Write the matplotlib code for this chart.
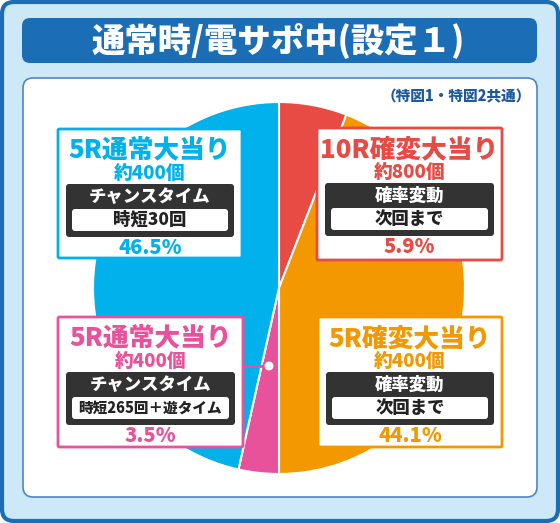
import matplotlib
matplotlib.use("Agg")
import matplotlib.pyplot as plt
from matplotlib.patches import FancyBboxPatch, Circle

plt.rcParams['font.family'] = ['Noto Sans CJK JP', 'DejaVu Sans']

# data (clockwise from 12 o'clock)
prizes = ["10R確変大当り", "5R確変大当り", "5R通常大当り", "5R通常大当り"]
payouts = ["約800個", "約400個", "約400個", "約400個"]
modes = ["確率変動", "確率変動", "チャンスタイム", "チャンスタイム"]
durations = ["次回まで", "次回まで", "時短265回＋遊タイム", "時短30回"]
shares = [5.9, 44.1, 3.5, 46.5]
colors = ["#e84a44", "#f39800", "#e8529a", "#00b1eb"]

title = "通常時/電サポ中(設定１)"
note = "（特図1・特図2共通）"

W, H = 560, 523
fig = plt.figure(figsize=(W / 100, H / 100), dpi=100)
ax = fig.add_axes([0, 0, 1, 1])

def rbox(x0, y0, x1, y1, r, fc, ec="none", lw=0, z=1):
    p = FancyBboxPatch((x0, y0), x1 - x0, y1 - y0,
                       boxstyle="round,pad=0,rounding_size=%g" % r,
                       fc=fc, ec=ec, lw=lw, zorder=z)
    ax.add_patch(p)

# frames
rbox(2, 2, 558, 521, 12, "#cde8f7", "#1b6db6", 3.0, z=0)
rbox(22, 18, 537, 63, 8, "#1b6db6", z=1)
rbox(23, 78, 537, 497, 10, "white", "#4f86c6", 1.2, z=1)

ax.text(278, 41, title, color="white", fontsize=24, fontweight="black",
        ha="center", va="center", zorder=5)
ax.text(531, 97, note, color="#1f5a9e", fontsize=10.5, fontweight="black",
        ha="right", va="center", zorder=5)

# pie (y axis points down, so counterclockwise in data = clockwise on screen)
ax.pie(shares, colors=colors, center=(279, 288), radius=186,
       startangle=-90, counterclock=True,
       wedgeprops=dict(ec="white", lw=1.5, zorder=2))

# label boxes: left, top, right, bottom of each card
cards = [(317, 128, 502, 260), (318, 317, 502, 447),
         (58, 317, 243, 447), (58, 129, 242, 258)]

for i, (x0, y0, x1, y1) in enumerate(cards):
    c = colors[i]
    cx = (x0 + x1) / 2
    rbox(x0, y0, x1, y1, 1.5, "white", c, 2.0, z=3)
    ax.text(cx, y0 + 21, prizes[i], color=c, fontsize=18.5, fontweight="black",
            ha="center", va="center", zorder=5)
    ax.text(cx, y0 + 44, payouts[i], color=c, fontsize=13.5, fontweight="black",
            ha="center", va="center", zorder=5)
    rbox(x0 + 8, y0 + 55, x1 - 8, y0 + 108, 3, "#333333", z=4)
    ax.text(cx, y0 + 68, modes[i], color="white", fontsize=12.5, fontweight="black",
            ha="center", va="center", zorder=5)
    rbox(x0 + 14, y0 + 80, x1 - 14, y0 + 102, 3, "white", z=5)
    fs = 12.5 if len(durations[i]) < 8 else 10.5
    ax.text(cx, y0 + 91, durations[i], color="#222222", fontsize=fs,
            fontweight="black", ha="center", va="center", zorder=6)
    ax.text(cx, y0 + 119, "%.1f%%" % shares[i], color=c, fontsize=14.5,
            fontweight="black", ha="center", va="center", zorder=5)

# connector for the small pink slice
ax.plot([243, 266], [366, 366], color=colors[2], lw=2, zorder=6)
ax.add_patch(Circle((269, 366), 5.5, fc="white", ec=colors[2], lw=1.5, zorder=7))

ax.set_xlim(0, W)
ax.set_ylim(H, 0)
ax.set_aspect("equal")
ax.axis("off")

fig.savefig("out.png", dpi=100)
